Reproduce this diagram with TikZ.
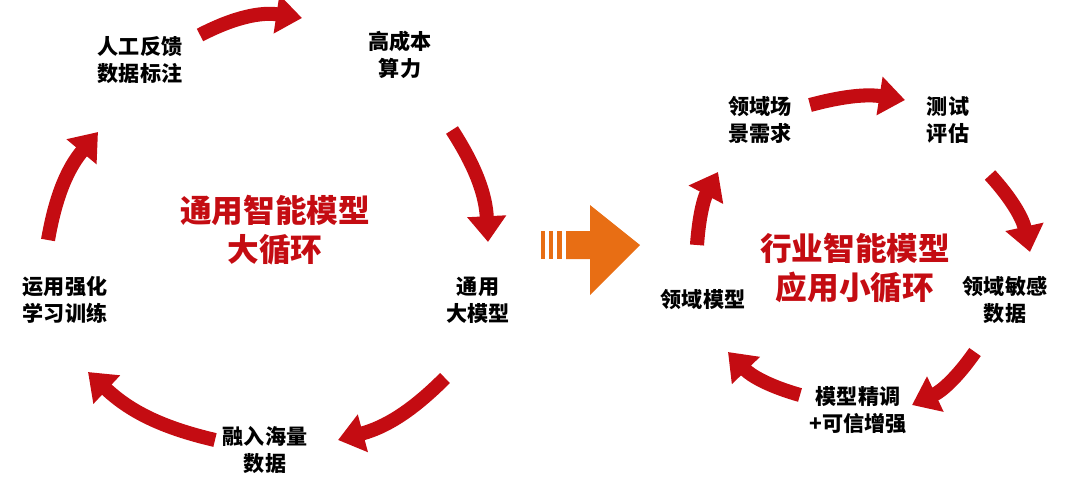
\documentclass[tikz,border=0pt]{standalone}
\usepackage{fontspec}
\setmainfont{Noto Sans CJK SC}
\usetikzlibrary{arrows.meta}
\definecolor{loopred}{RGB}{196,12,18}
\definecolor{midorange}{RGB}{232,110,20}
\tikzset{
    steplabel/.style={align=center, font=\bfseries\fontsize{18}{23}\selectfont},
    centerlabel/.style={align=center, text=loopred, font=\bfseries\fontsize{27}{33}\selectfont},
    looparrow/.style={draw=loopred, line width=12pt, -{Triangle[length=22pt,width=32pt]}}
}
\begin{document}
\begin{tikzpicture}[x=0.03cm, y=-0.03cm]
    \useasboundingbox (0,0) rectangle (1080,491);

    % Left loop
        % labels
        \node[steplabel] (feedback) at (140,60) {人工反馈\\数据标注};
        \node[steplabel] (compute) at (400,55) {高成本\\算力};
        \node[steplabel] (bigmodel) at (478,300) {通用\\大模型};
        \node[steplabel] (massdata) at (265,450) {融入海量\\数据};
        \node[steplabel] (rltrain) at (65,300) {运用强化\\学习训练};
        \node[centerlabel] (bigloop) at (275,230) {通用智能模型\\大循环};

        % arrow ends
        \coordinate (L1s) at (200,35);  \coordinate (L1e) at (302,18);
        \coordinate (L2s) at (452,130); \coordinate (L2e) at (488,242);
        \coordinate (L3s) at (445,378); \coordinate (L3e) at (338,440);
        \coordinate (L4s) at (215,440); \coordinate (L4e) at (88,372);
        \coordinate (L5s) at (48,240);  \coordinate (L5e) at (98,132);

        % arrows
        \draw[looparrow] (L1s) to[bend left=18] (L1e);
        \draw[looparrow] (L2s) to[bend left=15] (L2e);
        \draw[looparrow] (L3s) to[bend left=15] (L3e);
        \draw[looparrow] (L4s) to[bend left=15] (L4e);
        \draw[looparrow] (L5s) to[bend left=15] (L5e);

    % Middle arrow
        \fill[midorange] (541,231) rectangle (545,259);
        \fill[midorange] (549,231) rectangle (553,259);
        \fill[midorange] (557,231) rectangle (562,259);
        \fill[midorange] (566,231) -- (590,231) -- (590,205) -- (640,245)
            -- (590,295) -- (590,259) -- (566,259) -- cycle;

    % Right loop
        % labels
        \node[steplabel] (scene) at (760,120) {领域场\\景需求};
        \node[steplabel] (evaluate) at (948,120) {测试\\评估};
        \node[steplabel] (sensdata) at (1005,300) {领域敏感\\数据};
        \node[steplabel] (finetune) at (858,410) {模型精调\\+可信增强};
        \node[steplabel] (domainmodel) at (703,300) {领域模型};
        \node[centerlabel] (smallloop) at (855,268) {行业智能模型\\应用小循环};

        % arrow ends
        \coordinate (R1s) at (810,105); \coordinate (R1e) at (905,100);
        \coordinate (R2s) at (990,175); \coordinate (R2e) at (1030,252);
        \coordinate (R3s) at (975,352); \coordinate (R3e) at (912,405);
        \coordinate (R4s) at (800,395); \coordinate (R4e) at (728,352);
        \coordinate (R5s) at (697,245); \coordinate (R5e) at (718,172);

        % arrows
        \draw[looparrow] (R1s) to[bend left=12] (R1e);
        \draw[looparrow] (R2s) to[bend left=15] (R2e);
        \draw[looparrow] (R3s) to[bend left=15] (R3e);
        \draw[looparrow] (R4s) to[bend left=15] (R4e);
        \draw[looparrow] (R5s) to[bend left=12] (R5e);
\end{tikzpicture}
\end{document}
